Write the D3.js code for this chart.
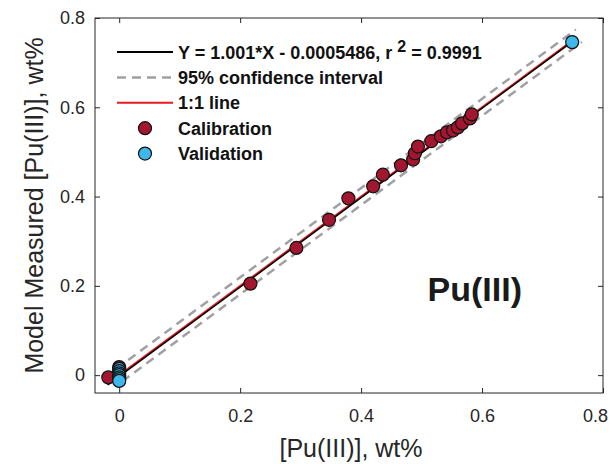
<!DOCTYPE html>
<html>
<head>
<meta charset="utf-8">
<script src="https://cdn.jsdelivr.net/npm/d3@7"></script>
<style>
  body { margin: 0; background: #fff; }
  svg { font-family: "Liberation Sans", Arial, sans-serif; }
</style>
</head>
<body>
<svg id="chart"></svg>
<script>
// calibration points [x, y]
const calibration = [
    [0, 0.018], [-0.018, -0.005],
    [0.217, 0.205], [0.293, 0.285], [0.347, 0.348], [0.379, 0.396],
    [0.42, 0.423], [0.436, 0.449], [0.466, 0.47], [0.486, 0.483],
    [0.489, 0.497], [0.494, 0.512], [0.516, 0.524], [0.532, 0.535],
    [0.542, 0.544], [0.552, 0.548], [0.56, 0.555], [0.567, 0.564],
    [0.58, 0.575], [0.583, 0.584]
];
// validation points [x, y]
const validation = [
    [0, 0.014], [0, 0.009], [0, 0.004], [0, 0.0],
    [0, -0.005], [0, -0.009], [0, -0.013], [0.749, 0.746]
];
// fit line, 1:1 line and 95% band, endpoints
const fitLine = [[-0.02, -0.0206], [0.75, 0.7502]];
const oneToOne = [[-0.02, -0.02], [0.75, 0.75]];
const ciUpper = [[-0.005, 0.014], [0.755, 0.774]];
const ciLower = [[0.005, -0.014], [0.765, 0.746]];
const xTicks = [0, 0.2, 0.4, 0.6, 0.8];
const yTicks = [0, 0.2, 0.4, 0.6, 0.8];

const W = 613, H = 464;
const margin = { top: 18, right: 10, bottom: 71, left: 95 };
const width = W - margin.left - margin.right;
const height = H - margin.top - margin.bottom;

const svg = d3.select("#chart").attr("width", W).attr("height", H);
const g = svg.append("g").attr("transform", `translate(${margin.left},${margin.top})`);

const x = d3.scaleLinear().domain([-0.04, 0.8]).range([0, width]);
const y = d3.scaleLinear().domain([-0.04, 0.8]).range([height, 0]);

g.append("clipPath").attr("id", "clip")
    .append("rect").attr("width", width).attr("height", height);

// axes with inward ticks on all sides
const fmt = d => d === 0 ? "0" : d3.format(".1f")(d);
const styleAxis = sel => {
    sel.select(".domain").remove();
    sel.selectAll("line").attr("stroke", "#262626");
    sel.selectAll("text").attr("fill", "#262626").style("font-size", "18px");
};
const xAxis = g.append("g").attr("transform", `translate(0,${height})`)
    .call(d3.axisBottom(x).tickValues(xTicks).tickFormat(fmt).tickSize(-5).tickPadding(16))
    .call(styleAxis);
// last label sits at the right edge of the figure
xAxis.selectAll("text").filter(d => d === 0.8).attr("dx", -8);
g.append("g")
    .call(d3.axisLeft(y).tickValues(yTicks).tickFormat(fmt).tickSize(-5).tickPadding(10))
    .call(styleAxis);
g.append("g")
    .call(d3.axisTop(x).tickValues(xTicks).tickFormat("").tickSize(-5))
    .call(styleAxis);
g.append("g").attr("transform", `translate(${width},0)`)
    .call(d3.axisRight(y).tickValues(yTicks).tickFormat("").tickSize(-5))
    .call(styleAxis);

g.append("rect")
    .attr("width", width).attr("height", height)
    .attr("fill", "none").attr("stroke", "#262626").attr("stroke-width", 1);

const line = d3.line().x(d => x(d[0])).y(d => y(d[1]));
const plot = g.append("g").attr("clip-path", "url(#clip)");

plot.append("path").datum(ciUpper).attr("d", line)
    .attr("fill", "none").attr("stroke", "#a0a0a0").attr("stroke-width", 2.5).attr("stroke-dasharray", "9,6");
plot.append("path").datum(ciLower).attr("d", line)
    .attr("fill", "none").attr("stroke", "#a0a0a0").attr("stroke-width", 2.5).attr("stroke-dasharray", "9,6");
plot.append("path").datum(oneToOne).attr("d", line)
    .attr("fill", "none").attr("stroke", "#e41a1c").attr("stroke-width", 2);
plot.append("path").datum(fitLine).attr("d", line)
    .attr("fill", "none").attr("stroke", "#000").attr("stroke-width", 1.5)
    .attr("transform", "translate(0.6,0.6)");

plot.selectAll(".cal").data(calibration).enter().append("circle")
    .attr("class", "cal")
    .attr("cx", d => x(d[0])).attr("cy", d => y(d[1])).attr("r", 6.5)
    .attr("fill", "#a3162f").attr("stroke", "#111").attr("stroke-width", 1.2);
plot.selectAll(".val").data(validation).enter().append("circle")
    .attr("class", "val")
    .attr("cx", d => x(d[0])).attr("cy", d => y(d[1])).attr("r", 6.5)
    .attr("fill", "#3cb8ea").attr("stroke", "#111").attr("stroke-width", 1.2);

// legend
const legendItems = [
    { label: "Y = 1.001*X - 0.0005486, r", sup: "2", tail: " = 0.9991", type: "line", color: "#000", dash: null },
    { label: "95% confidence interval", type: "line", color: "#a0a0a0", dash: "9,6" },
    { label: "1:1 line", type: "line", color: "#e41a1c", dash: null },
    { label: "Calibration", type: "dot", color: "#a3162f" },
    { label: "Validation", type: "dot", color: "#3cb8ea" }
];
const legend = svg.append("g").attr("transform", "translate(117,52)");
legendItems.forEach((d, i) => {
    const row = legend.append("g").attr("transform", `translate(0,${i * 25.4})`);
    if (d.type === "line") {
        row.append("line").attr("x1", 0).attr("x2", 56).attr("y1", 0).attr("y2", 0)
            .attr("stroke", d.color).attr("stroke-width", d.dash ? 2.5 : 2)
            .attr("stroke-dasharray", d.dash);
    } else {
        row.append("circle").attr("cx", 28).attr("cy", 0).attr("r", 6.5)
            .attr("fill", d.color).attr("stroke", "#111").attr("stroke-width", 1.2);
    }
    const t = row.append("text").attr("x", 61).attr("y", 6.5)
        .style("font-size", "18px").style("font-weight", "bold").attr("fill", "#111");
    t.append("tspan").text(d.label);
    if (d.sup) {
        t.append("tspan").attr("dx", 5).attr("dy", -7).style("font-size", "16px").text(d.sup);
        t.append("tspan").attr("dy", 7).text(d.tail);
    }
});

// panel label
g.append("text")
    .attr("x", x(0.588)).attr("y", y(0.167))
    .attr("text-anchor", "middle")
    .style("font-size", "34px").style("font-weight", "bold").attr("fill", "#1a1a1a")
    .text("Pu(III)");

// axis titles
svg.append("text")
    .attr("x", margin.left + width / 2 + 2).attr("y", 457)
    .attr("text-anchor", "middle").style("font-size", "25px").attr("fill", "#262626")
    .text("[Pu(III)], wt%");
svg.append("text")
    .attr("transform", `translate(43,${margin.top + height / 2}) rotate(-90)`)
    .attr("text-anchor", "middle").style("font-size", "25px").attr("fill", "#262626")
    .text("Model Measured [Pu(III)], wt%");
</script>
</body>
</html>
